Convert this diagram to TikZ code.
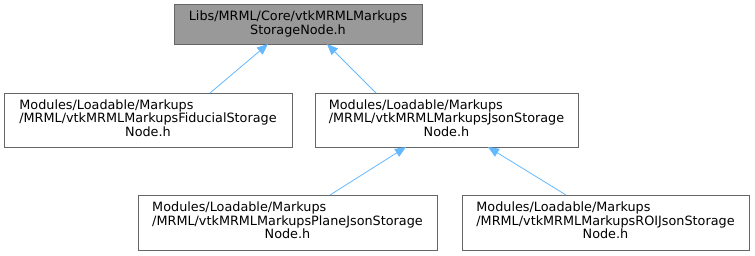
\documentclass[tikz,border=0pt]{standalone}
\usepackage{fontspec}
\setmainfont{DejaVu Sans}
\usetikzlibrary{arrows.meta}
\definecolor{edgeblue}{HTML}{63B8FF}
\definecolor{boxline}{HTML}{666666}
\definecolor{hilite}{HTML}{999999}
% two left-aligned lines followed by a centred last line
\newcommand{\fileLabel}[3]{\begin{tabular}{@{}l@{}}#1\\#2\\\multicolumn{1}{@{}c@{}}{#3}\end{tabular}}
\tikzset{
  filebox/.style={draw=boxline, line width=0.9pt, fill=white},
  curfile/.style={filebox, fill=hilite},
  label/.style={inner sep=0pt, font=\fontsize{12.8}{14.5}\selectfont, align=center},
  dep/.style={draw=edgeblue, line width=0.8pt,
    {Triangle[length=11pt, width=9pt]}-},
}
\begin{document}
\begin{tikzpicture}[x=1pt, y=-1pt]
  \renewcommand{\arraystretch}{0.88}
  \useasboundingbox (0,0) rectangle (755,256);
  % file boxes (corner coordinates in pixels)
  \draw[curfile] (174,4) rectangle (422,44);
  \node[label] (top) at (298,24)
    {Libs/MRML/Core/vtkMRMLMarkups\\StorageNode.h};
  \draw[filebox] (4,93) rectangle (292,147);
  \node[label] (fid) at (148,120)
    {\fileLabel{Modules/Loadable/Markups}{/MRML/vtkMRMLMarkupsFiducialStorage}{Node.h}};
  \draw[filebox] (315,93) rectangle (578,147);
  \node[label] (json) at (446.5,120)
    {\fileLabel{Modules/Loadable/Markups}{/MRML/vtkMRMLMarkupsJsonStorage}{Node.h}};
  \draw[filebox] (138,195) rectangle (437,250);
  \node[label] (plane) at (287.5,222.5)
    {\fileLabel{Modules/Loadable/Markups}{/MRML/vtkMRMLMarkupsPlaneJsonStorage}{Node.h}};
  \draw[filebox] (462,195) rectangle (749,250);
  \node[label] (roi) at (605.5,222.5)
    {\fileLabel{Modules/Loadable/Markups}{/MRML/vtkMRMLMarkupsROIJsonStorage}{Node.h}};
  % anchor points on the box borders
  \coordinate (topA) at (268,44);
  \coordinate (topB) at (327,44);
  \coordinate (fidT) at (210,93);
  \coordinate (jsonT) at (376,93);
  \coordinate (jsonA) at (406,147);
  \coordinate (jsonB) at (488,147);
  \coordinate (planeT) at (330,195);
  \coordinate (roiT) at (566,195);
  % inheritance edges
  \draw[dep] (topA) -- (fidT);
  \draw[dep] (topB) -- (jsonT);
  \draw[dep] (jsonA) -- (planeT);
  \draw[dep] (jsonB) -- (roiT);
\end{tikzpicture}
\end{document}
